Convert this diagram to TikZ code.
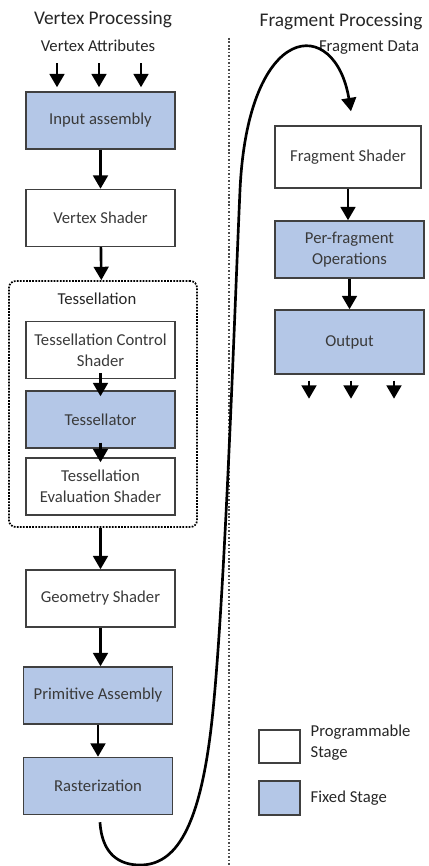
\documentclass[tikz,border=0pt]{standalone}
\usepackage{fontspec}
\setmainfont{Carlito}
\usepackage{tikz}
\usetikzlibrary{arrows.meta}
\usetikzlibrary{calc}

\definecolor{stageblue}{RGB}{180,199,231}
\definecolor{stageline}{RGB}{64,64,64}
\definecolor{stagetext}{RGB}{58,58,58}

\tikzset{
  prog/.style={draw=stageline, line width=1.1pt, fill=white, text=stagetext,
    minimum width=111.75pt, minimum height=42.75pt, inner sep=2pt, align=center,
    font=\fontsize{12.5}{15.5}\selectfont},
  fixed/.style={prog, fill=stageblue},
  caption/.style={text=black!85, font=\fontsize{12.5}{15.5}\selectfont, align=left},
  heading/.style={text=black!85, font=\fontsize{14.5}{17}\selectfont},
  flow/.style={line width=2pt, -{Triangle[width=11pt,length=10pt]}},
  loopline/.style={line width=2pt, -{Triangle[width=11pt,length=10pt]}},
  groupbox/.style={draw=black, line width=1.3pt, densely dotted, rounded corners=5pt,
    minimum width=141pt, minimum height=184.5pt, inner sep=0pt},
}

\begin{document}
\begin{tikzpicture}[x=0.75pt,y=0.75pt,yscale=-1,xscale=1]
\useasboundingbox (0,0) rectangle (428,866);

% Text Node
\node[heading] (vp) at (103,20) {Vertex Processing};
\node[heading] (fp) at (341,22) {Fragment Processing};
\node[caption] (va) at (98,46) {Vertex Attributes};
\node[caption] (fd) at (369,48) {Fragment Data};

%Straight Lines
\draw[line width=1.5pt, dash pattern=on 1.2pt off 1.4pt, black!70] (229,38) -- (229,866);

%Shape: Rectangle
\node[groupbox] (tbox) at (103,404) {};
\node[caption] (tl) at (97,299) {Tessellation};

%Shape: Rectangle
\node[fixed] (ia) at (100.5,120.5) {Input assembly};
\node[prog] (vs) at (100.5,218) {Vertex Shader};
\node[prog] (tcs) at (100.5,350) {Tessellation Control\\Shader};
\node[fixed] (tsl) at (100.5,419.5) {Tessellator};
\node[prog] (tes) at (100.5,486.5) {Tessellation\\Evaluation Shader};
\node[prog] (gs) at (100.5,598.5) {Geometry Shader};
\node[fixed] (pa) at (98,695.5) {Primitive Assembly};
\node[fixed] (ras) at (98,786) {Rasterization};

\node[prog, minimum width=109.5pt, minimum height=46.5pt] (fs) at (348,157) {Fragment Shader};
\node[fixed] (pfo) at (349.5,249.5) {Per-fragment\\Operations};
\node[fixed, minimum height=48pt] (out) at (349.5,342) {Output};

%Straight Lines
\foreach \dx in {-43.5,-1.5,40.5}
  \draw[flow] ($(ia.north)+(\dx,-28)$) -- ($(ia.north)+(\dx,-4)$);
\draw[flow] (ia) -- (vs);
\draw[flow] (vs) -- (tbox);
\draw[flow] ($(tcs.south)+(0,-6)$) -- ($(tsl.north)+(0,6)$);
\draw[flow] ($(tsl.south)+(0,-6)$) -- ($(tes.north)+(0,5)$);
\draw[flow] (tbox.south -| gs.north) -- (gs);
\draw[flow] (gs.south) -- (gs.south |- pa.north);
\draw[flow] (pa) -- (ras);

\draw[flow] (fs.south) -- (fs.south |- pfo.north);
\draw[flow] (pfo) -- (out);
\foreach \dx in {-40.5,1.5,44.5}
  \draw[flow] ($(out.south)+(\dx,6)$) -- ($(out.south)+(\dx,24)$);

%Curve Lines
\draw[loopline] ($(ras.south)+(2,7)$) .. controls (102,855) and (120,865) .. (140,865)
  .. controls (175,865) and (200,830) .. (212,720)
  .. controls (225,600) and (235,300) .. (240,190)
  .. controls (248,20) and (335,15) .. ($(fs.north)+(3,-14)$);

%Shape: Rectangle
\node[prog, minimum width=30.75pt, minimum height=24.75pt] (lp) at (279.5,746.5) {};
\node[fixed, minimum width=30.75pt, minimum height=25.5pt] (lf) at (279.5,798) {};
% Text Node
\node[caption, anchor=west] (lpt) at (306,742.5) {Programmable\\Stage};
\node[caption, anchor=west] (lft) at (306,798) {Fixed Stage};

\end{tikzpicture}
\end{document}
